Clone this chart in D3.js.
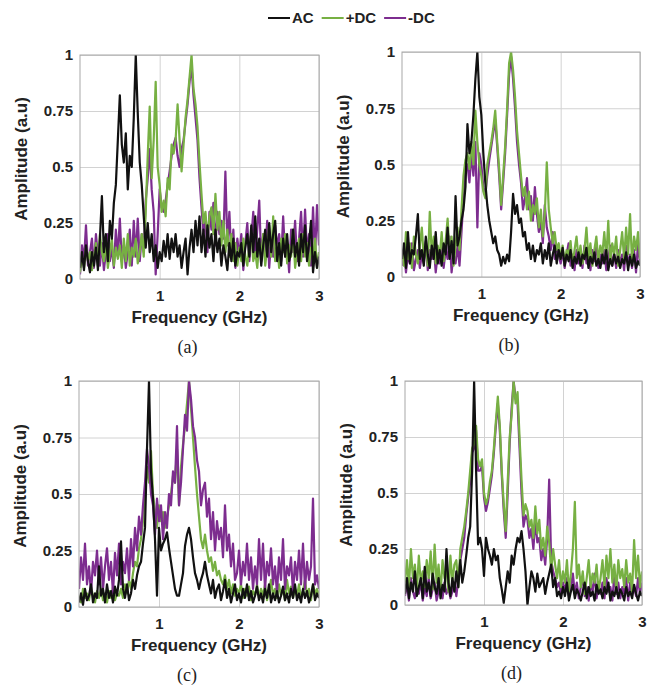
<!DOCTYPE html>
<html>
<head>
<meta charset="utf-8">
<script src="https://cdn.jsdelivr.net/npm/d3@7/dist/d3.min.js"></script>
<style>
  body { margin: 0; background: #fff; }
  svg text { font-family: "Liberation Sans", Arial, sans-serif; }
</style>
</head>
<body>
<script>
// Frequency grid (GHz), one sample every 0.025 GHz from 0 to 3.
const FREQ_STEP = 0.025;
const freq = d3.range(121).map(i => +(i * FREQ_STEP).toFixed(3));

// Tick labels.
const xTicks = [1, 2, 3];
const yTicks = [0, 0.25, 0.5, 0.75, 1];
const yTickLabels = ["0", "0.25", "0.5", "0.75", "1"];

// Series names.
const seriesNames = ["AC", "+DC", "-DC"];
const panelNames = ["(a)", "(b)", "(c)", "(d)"];

// Panel (a)
const acA = [0.05,0.12,0.04,0.15,0.08,0.03,0.12,0.06,0.14,0.04,
  0.18,0.37,0.12,0.2,0.08,0.26,0.18,0.34,0.42,0.62,
  0.82,0.6,0.52,0.65,0.4,0.55,0.5,0.72,1.0,0.74,
  0.52,0.42,0.28,0.14,0.25,0.12,0.2,0.08,0.15,0.05,
  0.12,0.08,0.17,0.1,0.2,0.09,0.18,0.12,0.2,0.1,
  0.15,0.05,0.12,0.18,0.02,0.14,0.22,0.12,0.26,0.15,
  0.28,0.12,0.22,0.1,0.24,0.14,0.2,0.08,0.22,0.12,
  0.18,0.06,0.15,0.1,0.04,0.16,0.08,0.18,0.06,0.12,
  0.1,0.16,0.06,0.14,0.2,0.1,0.24,0.12,0.28,0.1,
  0.18,0.06,0.15,0.22,0.1,0.25,0.12,0.2,0.26,0.08,
  0.16,0.06,0.18,0.1,0.2,0.08,0.12,0.22,0.1,0.16,
  0.06,0.2,0.12,0.24,0.08,0.16,0.26,0.03,0.12,0.05,0.1];
const posA = [0.03,0.1,0.05,0.14,0.08,0.12,0.04,0.1,0.16,0.06,
  0.2,0.12,0.08,0.16,0.05,0.12,0.18,0.06,0.14,0.09,
  0.15,0.05,0.18,0.08,0.2,0.06,0.14,0.1,0.18,0.07,
  0.12,0.2,0.1,0.3,0.55,0.77,0.45,0.62,0.88,0.5,
  0.42,0.3,0.35,0.28,0.45,0.4,0.6,0.56,0.62,0.78,
  0.62,0.48,0.6,0.72,0.8,0.9,1.0,0.85,0.78,0.68,
  0.52,0.38,0.25,0.3,0.18,0.28,0.32,0.2,0.38,0.22,
  0.3,0.15,0.26,0.12,0.22,0.1,0.2,0.08,0.16,0.06,
  0.14,0.08,0.18,0.1,0.06,0.15,0.2,0.08,0.12,0.05,
  0.16,0.1,0.2,0.06,0.14,0.24,0.1,0.28,0.08,0.15,
  0.05,0.18,0.12,0.2,0.07,0.15,0.1,0.22,0.05,0.12,
  0.18,0.08,0.2,0.1,0.16,0.06,0.14,0.1,0.18,0.05,0.12];
const negA = [0.02,0.15,0.08,0.24,0.06,0.12,0.18,0.05,0.2,0.1,
  0.06,0.16,0.04,0.12,0.2,0.08,0.14,0.05,0.22,0.1,
  0.27,0.08,0.15,0.05,0.12,0.22,0.06,0.26,0.1,0.27,
  0.08,0.2,0.12,0.35,0.45,0.58,0.4,0.3,0.02,0.2,
  0.4,0.32,0.3,0.35,0.42,0.48,0.55,0.6,0.63,0.55,
  0.5,0.58,0.62,0.7,0.78,0.88,0.95,0.82,0.72,0.62,
  0.45,0.32,0.2,0.26,0.12,0.3,0.22,0.34,0.15,0.3,
  0.2,0.26,0.18,0.48,0.15,0.3,0.1,0.22,0.05,0.18,
  0.1,0.2,0.04,0.16,0.25,0.08,0.18,0.3,0.1,0.22,
  0.35,0.08,0.2,0.12,0.26,0.05,0.18,0.1,0.24,0.14,
  0.2,0.08,0.28,0.1,0.16,0.03,0.22,0.12,0.26,0.08,
  0.18,0.3,0.1,0.31,0.12,0.2,0.06,0.32,0.1,0.33,0.15];

// Panel (b)
const acB = [0.08,0.15,0.04,0.2,0.06,0.12,0.1,0.18,0.28,0.08,
  0.12,0.05,0.18,0.1,0.04,0.14,0.08,0.2,0.06,0.12,
  0.05,0.15,0.1,0.22,0.08,0.16,0.06,0.36,0.14,0.18,
  0.25,0.3,0.4,0.68,0.55,0.6,0.72,0.88,1.0,0.8,
  0.72,0.55,0.42,0.32,0.25,0.2,0.15,0.18,0.12,0.1,
  0.05,0.09,0.06,0.1,0.07,0.2,0.37,0.28,0.32,0.24,
  0.26,0.18,0.2,0.12,0.15,0.08,0.14,0.07,0.12,0.1,
  0.15,0.06,0.12,0.08,0.15,0.05,0.1,0.14,0.06,0.12,
  0.08,0.13,0.05,0.1,0.07,0.12,0.04,0.09,0.06,0.11,
  0.05,0.1,0.08,0.13,0.04,0.09,0.06,0.11,0.05,0.08,
  0.04,0.1,0.06,0.12,0.03,0.08,0.05,0.1,0.06,0.09,
  0.04,0.08,0.06,0.11,0.03,0.09,0.05,0.1,0.04,0.07,0.05];
const posB = [0.12,0.05,0.2,0.08,0.15,0.04,0.18,0.1,0.06,0.14,
  0.22,0.08,0.15,0.05,0.29,0.1,0.18,0.06,0.14,0.09,
  0.2,0.07,0.16,0.26,0.1,0.18,0.05,0.14,0.22,0.12,
  0.3,0.45,0.52,0.55,0.48,0.6,0.5,0.74,0.6,0.5,
  0.45,0.38,0.35,0.5,0.55,0.6,0.66,0.74,0.6,0.48,
  0.32,0.45,0.58,0.75,0.95,1.0,0.92,0.8,0.65,0.55,
  0.45,0.36,0.4,0.3,0.38,0.25,0.32,0.28,0.35,0.22,
  0.3,0.18,0.28,0.51,0.3,0.22,0.15,0.2,0.12,0.15,
  0.08,0.14,0.06,0.12,0.1,0.16,0.05,0.12,0.18,0.08,
  0.14,0.06,0.12,0.22,0.08,0.15,0.05,0.12,0.18,0.07,
  0.14,0.1,0.2,0.08,0.25,0.06,0.15,0.1,0.18,0.05,
  0.12,0.2,0.08,0.22,0.1,0.28,0.06,0.18,0.12,0.2,0.08];
const negB = [0.05,0.12,0.02,0.1,0.06,0.15,0.03,0.08,0.12,0.04,
  0.1,0.06,0.16,0.03,0.12,0.08,0.14,0.02,0.1,0.06,
  0.15,0.04,0.12,0.08,0.18,0.02,0.1,0.06,0.14,0.05,
  0.2,0.35,0.48,0.5,0.42,0.55,0.45,0.6,0.22,0.55,
  0.5,0.4,0.36,0.45,0.52,0.58,0.64,0.7,0.58,0.45,
  0.3,0.42,0.55,0.72,0.9,0.98,0.88,0.75,0.6,0.5,
  0.42,0.3,0.35,0.44,0.3,0.36,0.25,0.4,0.28,0.2,
  0.25,0.15,0.32,0.22,0.18,0.12,0.2,0.08,0.14,0.1,
  0.06,0.12,0.04,0.1,0.15,0.05,0.1,0.03,0.12,0.06,
  0.1,0.04,0.14,0.06,0.1,0.03,0.12,0.07,0.15,0.04,
  0.1,0.06,0.12,0.03,0.08,0.14,0.05,0.1,0.04,0.12,
  0.06,0.1,0.03,0.14,0.05,0.1,0.04,0.12,0.02,0.15,0.06];

// Panel (c)
const acC = [0.02,0.06,0.01,0.08,0.03,0.05,0.1,0.02,0.06,0.04,
  0.18,0.05,0.08,0.02,0.1,0.04,0.07,0.02,0.09,0.05,
  0.12,0.29,0.08,0.04,0.1,0.03,0.06,0.12,0.08,0.14,
  0.18,0.2,0.28,0.35,0.7,1.0,0.6,0.48,0.3,0.05,
  0.35,0.25,0.28,0.3,0.33,0.26,0.2,0.14,0.08,0.05,
  0.05,0.1,0.15,0.27,0.32,0.35,0.3,0.22,0.15,0.12,
  0.08,0.12,0.15,0.2,0.14,0.1,0.06,0.12,0.04,0.08,
  0.1,0.03,0.07,0.12,0.04,0.08,0.02,0.06,0.1,0.03,
  0.06,0.02,0.08,0.04,0.1,0.03,0.07,0.02,0.05,0.09,
  0.03,0.06,0.02,0.08,0.04,0.1,0.02,0.06,0.03,0.07,
  0.02,0.05,0.09,0.03,0.06,0.02,0.08,0.04,0.1,0.03,
  0.06,0.02,0.08,0.04,0.07,0.02,0.05,0.1,0.03,0.06,0.04];
const posC = [0.05,0.02,0.08,0.04,0.06,0.03,0.09,0.05,0.02,0.07,
  0.04,0.08,0.03,0.06,0.02,0.07,0.04,0.09,0.03,0.06,
  0.05,0.08,0.04,0.1,0.06,0.12,0.08,0.15,0.2,0.18,
  0.26,0.3,0.38,0.5,0.62,0.55,0.69,0.5,0.42,0.35,
  0.45,0.38,0.42,0.35,0.4,0.45,0.5,0.58,0.55,0.7,
  0.45,0.62,0.72,0.8,0.9,1.0,0.88,0.75,0.62,0.5,
  0.4,0.3,0.26,0.32,0.25,0.2,0.22,0.16,0.2,0.14,
  0.16,0.12,0.1,0.14,0.08,0.12,0.06,0.1,0.05,0.08,
  0.06,0.1,0.04,0.08,0.05,0.09,0.03,0.07,0.05,0.1,
  0.04,0.08,0.05,0.1,0.03,0.07,0.12,0.05,0.08,0.04,
  0.1,0.05,0.08,0.03,0.12,0.06,0.09,0.04,0.08,0.05,
  0.1,0.04,0.07,0.12,0.05,0.08,0.03,0.1,0.06,0.08,0.05];
const negC = [0.08,0.22,0.12,0.28,0.1,0.18,0.06,0.2,0.14,0.25,
  0.1,0.22,0.08,0.18,0.26,0.12,0.2,0.06,0.24,0.14,
  0.28,0.1,0.2,0.15,0.26,0.12,0.3,0.18,0.35,0.25,
  0.4,0.32,0.45,0.55,0.7,0.62,0.5,0.45,0.32,0.48,
  0.38,0.45,0.3,0.42,0.35,0.5,0.45,0.6,0.55,0.8,
  0.45,0.55,0.7,0.85,0.78,1.0,0.92,0.8,0.75,0.65,
  0.6,0.45,0.52,0.55,0.4,0.48,0.3,0.42,0.25,0.38,
  0.3,0.35,0.22,0.45,0.25,0.32,0.18,0.28,0.12,0.15,
  0.25,0.1,0.2,0.14,0.28,0.12,0.22,0.08,0.18,0.1,
  0.3,0.12,0.28,0.08,0.2,0.14,0.26,0.1,0.18,0.06,
  0.22,0.12,0.3,0.08,0.18,0.14,0.22,0.06,0.2,0.12,
  0.25,0.1,0.28,0.08,0.2,0.12,0.18,0.48,0.1,0.14,0.08];

// Panel (d)
const acD = [0.05,0.12,0.03,0.1,0.06,0.15,0.04,0.08,0.12,0.03,
  0.17,0.06,0.1,0.04,0.14,0.08,0.05,0.12,0.03,0.09,
  0.06,0.25,0.1,0.04,0.12,0.06,0.15,0.08,0.2,0.1,
  0.15,0.22,0.3,0.35,0.6,1.0,0.6,0.27,0.3,0.25,
  0.13,0.3,0.25,0.22,0.18,0.25,0.2,0.22,0.12,0.07,
  0.01,0.08,0.15,0.1,0.22,0.18,0.25,0.3,0.28,0.33,
  0.25,0.15,0.0,0.08,0.15,0.12,0.06,0.14,0.08,0.1,
  0.12,0.05,0.1,0.14,0.18,0.08,0.12,0.04,0.06,0.03,
  0.08,0.04,0.1,0.02,0.06,0.09,0.03,0.07,0.05,0.02,
  0.06,0.1,0.03,0.08,0.04,0.06,0.02,0.09,0.05,0.07,
  0.03,0.08,0.05,0.1,0.02,0.06,0.04,0.08,0.03,0.07,
  0.05,0.02,0.08,0.04,0.06,0.03,0.09,0.05,0.02,0.06,0.04];
const posD = [0.1,0.2,0.08,0.25,0.12,0.18,0.06,0.22,0.1,0.15,
  0.08,0.2,0.12,0.24,0.07,0.27,0.1,0.18,0.05,0.2,
  0.12,0.16,0.06,0.22,0.1,0.18,0.2,0.08,0.25,0.3,
  0.35,0.42,0.5,0.6,0.7,0.72,0.8,0.65,0.62,0.65,
  0.5,0.45,0.48,0.55,0.6,0.7,0.82,0.93,0.8,0.6,
  0.45,0.33,0.55,0.75,0.85,1.0,0.9,0.95,0.75,0.56,
  0.4,0.45,0.42,0.35,0.38,0.3,0.44,0.32,0.38,0.25,
  0.3,0.22,0.35,0.28,0.15,0.25,0.18,0.12,0.2,0.08,
  0.15,0.1,0.2,0.06,0.14,0.25,0.46,0.12,0.18,0.08,
  0.15,0.05,0.12,0.2,0.08,0.14,0.1,0.18,0.06,0.12,
  0.2,0.08,0.22,0.12,0.25,0.1,0.18,0.06,0.2,0.12,
  0.16,0.08,0.2,0.1,0.14,0.06,0.29,0.12,0.22,0.08,0.15];
const negD = [0.04,0.1,0.02,0.12,0.06,0.03,0.09,0.05,0.11,0.02,
  0.08,0.04,0.12,0.03,0.07,0.1,0.02,0.06,0.09,0.03,
  0.1,0.05,0.08,0.03,0.06,0.1,0.04,0.12,0.2,0.25,
  0.3,0.4,0.48,0.55,0.68,0.7,0.78,0.6,0.6,0.62,
  0.48,0.42,0.46,0.52,0.58,0.68,0.8,0.9,0.78,0.58,
  0.42,0.3,0.5,0.72,0.88,1.0,0.92,0.9,0.7,0.5,
  0.35,0.4,0.38,0.3,0.34,0.25,0.38,0.28,0.3,0.2,
  0.25,0.18,0.3,0.56,0.2,0.15,0.12,0.08,0.1,0.05,
  0.1,0.06,0.12,0.04,0.08,0.14,0.05,0.1,0.03,0.08,
  0.12,0.04,0.08,0.02,0.1,0.06,0.14,0.03,0.08,0.05,
  0.1,0.03,0.12,0.06,0.08,0.02,0.14,0.05,0.1,0.03,
  0.08,0.05,0.12,0.02,0.1,0.06,0.08,0.04,0.12,0.05,0.1];

const colors = { "AC": "#111111", "+DC": "#77b043", "-DC": "#7d2d8f" };

// Panel boxes (pixel layout) and drawing order of the series.
const panels = [
  { name: panelNames[0], left: 80, right: 319, top: 55, bottom: 279,
    series: { "AC": acA, "+DC": posA, "-DC": negA }, order: ["-DC", "+DC", "AC"] },
  { name: panelNames[1], left: 402, right: 640, top: 52, bottom: 277,
    series: { "AC": acB, "+DC": posB, "-DC": negB }, order: ["-DC", "+DC", "AC"] },
  { name: panelNames[2], left: 79, right: 319, top: 381, bottom: 607,
    series: { "AC": acC, "+DC": posC, "-DC": negC }, order: ["+DC", "-DC", "AC"] },
  { name: panelNames[3], left: 405, right: 642, top: 381, bottom: 605,
    series: { "AC": acD, "+DC": posD, "-DC": negD }, order: ["-DC", "+DC", "AC"] }
];

const svg = d3.select("body").append("svg").attr("width", 647).attr("height", 686);

panels.forEach((p, k) => {
  const w = p.right - p.left, h = p.bottom - p.top;
  const x = d3.scaleLinear().domain([0, 3]).range([0, w]);
  const y = d3.scaleLinear().domain([0, 1]).range([h, 0]);
  const g = svg.append("g").attr("transform", `translate(${p.left},${p.top})`);

  // grid + tick labels
  const xAxis = g.append("g").attr("transform", `translate(0,${h})`)
    .call(d3.axisBottom(x).tickValues(xTicks).tickSize(-h).tickPadding(8).tickFormat(d3.format("d")));
  const yAxis = g.append("g")
    .call(d3.axisLeft(y).tickValues(yTicks).tickSize(-w).tickPadding(7).tickFormat((d, i) => yTickLabels[i]));
  [xAxis, yAxis].forEach(a => {
    a.select(".domain").remove();
    a.selectAll("line").attr("stroke", "#d2d2d2");
    a.selectAll("text").attr("fill", "#222").style("font-size", "15px").style("font-weight", "bold");
  });
  xAxis.selectAll("text").attr("dy", "0.9em");

  // data lines
  g.append("clipPath").attr("id", "clip" + k)
    .append("rect").attr("width", w).attr("height", h);
  const line = d3.line().x((d, i) => x(freq[i])).y(d => y(d));
  p.order.forEach(name => {
    g.append("path")
      .datum(p.series[name])
      .attr("clip-path", `url(#clip${k})`)
      .attr("fill", "none")
      .attr("stroke", colors[name])
      .attr("stroke-width", 2.2)
      .attr("stroke-linejoin", "round")
      .attr("d", line);
  });

  // frame
  g.append("rect").attr("width", w).attr("height", h)
    .attr("fill", "none").attr("stroke", "#a8a8a8").attr("stroke-width", 1);

  // axis titles
  g.append("text")
    .attr("x", w / 2).attr("y", h + 44)
    .attr("text-anchor", "middle")
    .style("font-size", "17px").style("font-weight", "bold").attr("fill", "#222")
    .text("Frequency (GHz)");
  g.append("text")
    .attr("transform", `translate(-53,${h / 2 - 8}) rotate(-90)`)
    .attr("text-anchor", "middle")
    .style("font-size", "17px").style("font-weight", "bold").attr("fill", "#222")
    .text("Amplitude (a.u)");

  // caption
  g.append("text")
    .attr("x", w / 2 - 12).attr("y", h + 74)
    .attr("text-anchor", "middle")
    .style("font-family", "'Liberation Serif', 'Times New Roman', serif")
    .style("font-size", "18px").attr("fill", "#222")
    .text(p.name);
});

// legend
const legend = svg.append("g").attr("transform", "translate(268,18)");
let lx = 0;
seriesNames.forEach(name => {
  legend.append("line").attr("x1", lx).attr("x2", lx + 22).attr("y1", 0).attr("y2", 0)
    .attr("stroke", colors[name]).attr("stroke-width", 2);
  const t = legend.append("text").attr("x", lx + 24).attr("y", 5)
    .style("font-size", "15px").style("font-weight", "bold").attr("fill", "#222")
    .text(name);
  lx += 24 + t.node().getComputedTextLength() + 8;
});
</script>
</body>
</html>
